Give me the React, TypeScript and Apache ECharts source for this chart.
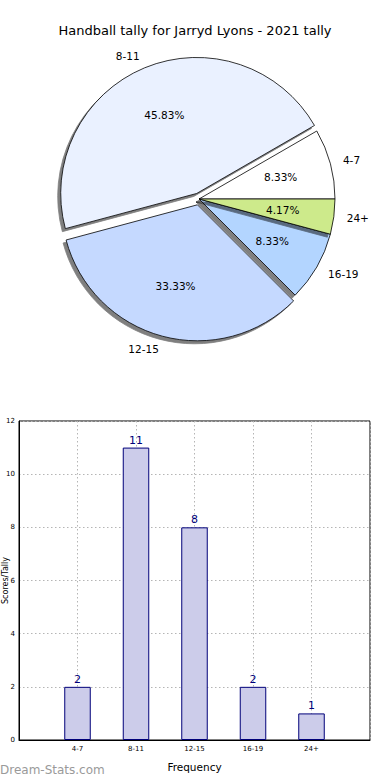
import React, { useEffect, useRef } from "react";
import * as echarts from "echarts";

const categories = ["4-7", "8-11", "12-15", "16-19", "24+"];
const counts = [2, 11, 8, 2, 1];
const pieColors = ["#ffffff", "#eaf1ff", "#c5d9ff", "#b3d5ff", "#cdea8b"];
const exploded = ["8-11", "12-15"];
const yTicks = { min: 0, max: 12, interval: 2 };
const xPositions = [1, 2, 3, 4, 5];

const FONT = "DejaVu Sans";

export default function App() {
  const ref = useRef<HTMLDivElement>(null);
  useEffect(() => {
    if (!ref.current) return;
    const chart = echarts.init(ref.current, undefined, { renderer: "svg" });
    const total = counts.reduce((a, b) => a + b, 0);
    const pieData = categories.map((c, i) => ({
      name: c,
      value: counts[i],
      selected: exploded.includes(c),
      itemStyle: { color: pieColors[i] },
    }));
    const pctData = categories.map((c, i) => ({
      name: c,
      value: counts[i],
      selected: exploded.includes(c),
    }));
    const barData = xPositions.map((x, i) => [x, counts[i]]);
    chart.setOption({
      animation: false,
      textStyle: { fontFamily: FONT },
      title: {
        text: "Handball tally for Jarryd Lyons - 2021 tally",
        left: "center",
        top: 19,
        textStyle: { fontFamily: FONT, fontSize: 13, fontWeight: "normal", color: "#000" },
      },
      graphic: [
        {
          type: "text",
          left: 0,
          top: 764,
          style: { text: "Dream-Stats.com", fill: "#9a9a9a", font: `12px "${FONT}"` },
        },
      ],
      grid: {
        left: 19,
        top: 421,
        width: 351,
        height: 319,
        outerBoundsMode: "none",
        containLabel: false,
        show: true,
        borderColor: "#000",
        borderWidth: 1,
        backgroundColor: "transparent",
      },
      xAxis: {
        type: "value",
        min: 0,
        max: xPositions.length + 1,
        interval: 1,
        name: "Frequency",
        nameLocation: "middle",
        nameGap: 21,
        nameMoveOverlap: false,
        nameTextStyle: { fontFamily: FONT, fontSize: 10.5, color: "#000" },
        axisLine: { show: true, lineStyle: { color: "#000", width: 1 } },
        axisTick: { show: false },
        axisLabel: {
          fontFamily: FONT,
          fontSize: 7,
          color: "#000",
          margin: 5,
          formatter: (v: number) => {
            const idx = xPositions.indexOf(v);
            return idx >= 0 ? categories[idx] : "";
          },
        },
        splitLine: { show: true, lineStyle: { color: "#b5b5b5", type: [1.5, 2.5], width: 1 } },
      },
      yAxis: {
        type: "value",
        min: yTicks.min,
        max: yTicks.max,
        interval: yTicks.interval,
        name: "Scores/Tally",
        nameLocation: "middle",
        nameGap: 10,
        nameMoveOverlap: false,
        nameTextStyle: { fontFamily: FONT, fontSize: 8, color: "#000" },
        axisLine: { show: true, lineStyle: { color: "#000", width: 1 } },
        axisTick: { show: false },
        axisLabel: { fontFamily: FONT, fontSize: 7, color: "#000", margin: 4 },
        splitLine: { show: true, lineStyle: { color: "#b5b5b5", type: [1.5, 2.5], width: 1 } },
      },
      series: [
        {
          type: "pie",
          center: [199, 199],
          radius: 136,
          startAngle: 0,
          clockwise: false,
          selectedMode: "multiple",
          selectedOffset: 6,
          avoidLabelOverlap: false,
          silent: true,
          data: pieData,
          itemStyle: {
            borderColor: "#000",
            borderWidth: 0.8,
            shadowColor: "rgba(0,0,0,0.5)",
            shadowOffsetX: -3,
            shadowOffsetY: 3,
            shadowBlur: 0,
          },
          label: {
            show: true,
            position: "outside",
            formatter: "{b}",
            fontFamily: FONT,
            fontSize: 10.5,
            color: "#000",
            distanceToLabelLine: 0,
          },
          labelLine: { show: false, length: 13, length2: 0 },
        },
        {
          type: "pie",
          center: [199, 199],
          radius: 163,
          startAngle: 0,
          clockwise: false,
          selectedMode: "multiple",
          selectedOffset: 6,
          avoidLabelOverlap: false,
          silent: true,
          z: 5,
          data: pctData,
          itemStyle: { color: "rgba(0,0,0,0)", borderWidth: 0 },
          label: {
            show: true,
            position: "inside",
            formatter: (p: any) => ((p.value / total) * 100).toFixed(2) + "%",
            fontFamily: FONT,
            fontSize: 10.5,
            color: "#000",
          },
          labelLine: { show: false },
        },
        {
          type: "bar",
          data: barData,
          barWidth: 26.5,
          itemStyle: { color: "#ccccea", borderColor: "#00007a", borderWidth: 1 },
          label: {
            show: true,
            position: "top",
            distance: 2,
            fontFamily: FONT,
            fontSize: 11,
            color: "#00007a",
            formatter: (p: any) => String(p.value[1]),
          },
        },
      ],
    });
    return () => chart.dispose();
  }, []);
  return (
    <div
      ref={ref}
      style={{ position: "fixed", left: 0, top: 0, width: 390, height: 780, background: "#fff" }}
    />
  );
}
